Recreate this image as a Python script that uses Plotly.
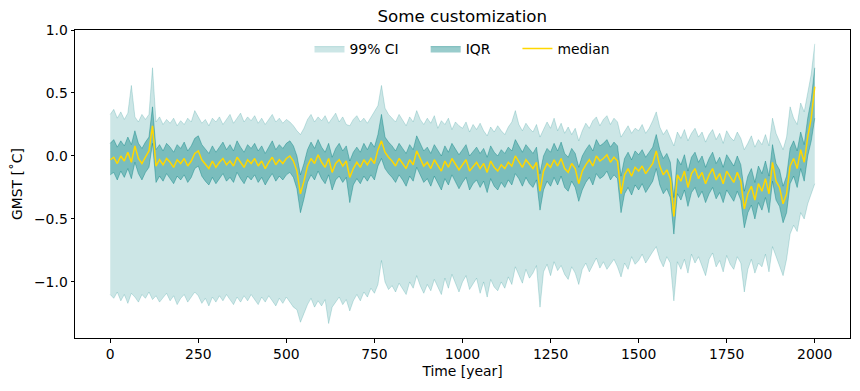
import plotly.graph_objects as go

# Time axis (years), one sample every 10 years
years = list(range(0, 2001, 10))

# Median GMST anomaly
median = [
    -0.03, -0.01, -0.06, 0.0, -0.04, 0.03, -0.05, 0.08, -0.02, -0.06,
    -0.01, 0.04, 0.24, -0.08, -0.03, -0.07, -0.02, -0.05, -0.09, -0.03,
    -0.06, -0.02, -0.08, -0.04, 0.02, 0.04, -0.03, -0.07, -0.1, -0.04,
    -0.09, -0.05, -0.02, -0.07, -0.04, -0.08, -0.01, -0.05, -0.09, -0.03,
    -0.06, -0.02, -0.08, -0.04, -0.1, -0.05, -0.01, -0.07, -0.03, -0.06,
    -0.02, 0.0, -0.04, -0.12, -0.3, -0.2, -0.08, -0.02, -0.06, 0.01,
    -0.05, -0.09, -0.02, -0.13, -0.06, -0.03, -0.08, -0.04, -0.17, -0.1,
    -0.05, -0.09, -0.03, -0.07, -0.02, -0.06, 0.05, 0.12, 0.03, -0.01,
    -0.04, -0.08, -0.02, -0.06, -0.1, -0.03, -0.07, 0.04, -0.02, -0.08,
    -0.05, -0.1, -0.03, -0.07, -0.12, -0.04, -0.09, -0.02, -0.06, -0.11,
    -0.07, -0.03, -0.12, -0.08, -0.05, -0.1, -0.06, -0.13, -0.04, -0.09,
    -0.12, -0.07, -0.1, -0.05, -0.08, 0.0, -0.04, -0.09, -0.03, -0.07,
    -0.1, -0.05, -0.28, -0.12, -0.06, -0.09, -0.03, -0.08, -0.02, -0.1,
    -0.13, -0.06, -0.1, -0.22, -0.12, -0.07, -0.03, -0.08, 0.0, -0.04,
    -0.02, 0.01, -0.05, -0.01, -0.04, -0.3, -0.15, -0.1, -0.16, -0.09,
    -0.12, -0.08, -0.14, -0.1, -0.06, 0.04, -0.08, -0.15, -0.11, -0.18,
    -0.48, -0.15, -0.2, -0.12, -0.25, -0.14, -0.1, -0.18, -0.13, -0.22,
    -0.15, -0.1, -0.19, -0.14, -0.22, -0.12, -0.17, -0.21, -0.13, -0.2,
    -0.42, -0.3, -0.24, -0.35, -0.22, -0.28, -0.18, -0.3, -0.05, -0.2,
    -0.25, -0.38, -0.3, -0.08, -0.02, -0.1, 0.05, -0.05, 0.15, 0.3,
    0.55,
]

# Interquartile range: upper (75%) and lower (25%) bounds
iqr_high = [
    0.1, 0.13, 0.07, 0.12, 0.08, 0.15, 0.09, 0.2, 0.1, 0.06,
    0.11, 0.15, 0.39, 0.05, 0.09, 0.04, 0.1, 0.07, 0.03, 0.09,
    0.06, 0.11, 0.04, 0.08, 0.14, 0.16, 0.09, 0.05, 0.02, 0.08,
    0.03, 0.07, 0.11, 0.05, 0.09, 0.04, 0.12, 0.07, 0.03, 0.09,
    0.06, 0.1, 0.04, 0.08, 0.02, 0.07, 0.12, 0.05, 0.09, 0.06,
    0.1, 0.12, 0.08, 0.0, -0.15, -0.06, 0.05, 0.11, 0.06, 0.13,
    0.07, 0.03, 0.1, -0.01, 0.06, 0.1, 0.04, 0.08, -0.04, 0.03,
    0.07, 0.03, 0.1, 0.05, 0.11, 0.07, 0.17, 0.33, 0.15, 0.11,
    0.08, 0.04, 0.1, 0.06, 0.02, 0.09, 0.05, 0.16, 0.1, 0.04,
    0.07, 0.02, 0.09, 0.05, 0.0, 0.08, 0.03, 0.1, 0.06, 0.01,
    0.05, 0.09, 0.0, 0.04, 0.07, 0.02, 0.06, -0.01, 0.08, 0.03,
    0.0, 0.05, 0.02, 0.07, 0.04, 0.13, 0.08, 0.03, 0.09, 0.05,
    0.02, 0.07, -0.14, 0.0, 0.06, 0.03, 0.1, 0.04, 0.11, 0.02,
    -0.01, 0.06, 0.02, -0.09, 0.0, 0.05, 0.09, 0.04, 0.13, 0.08,
    0.1, 0.13, 0.07, 0.11, 0.08, -0.16, -0.02, 0.03, -0.03, 0.04,
    0.01, 0.05, -0.01, 0.03, 0.07, 0.17, 0.05, -0.02, 0.02, -0.05,
    -0.33, -0.02, -0.07, 0.01, -0.12, -0.01, 0.03, -0.05, 0.0, -0.09,
    -0.02, 0.03, -0.06, -0.01, -0.09, 0.01, -0.04, -0.08, 0.0, -0.07,
    -0.28, -0.16, -0.1, -0.21, -0.08, -0.14, -0.04, -0.16, 0.09, -0.06,
    -0.11, -0.24, -0.16, 0.06, 0.12, 0.04, 0.19, 0.09, 0.3, 0.45,
    0.7,
]
iqr_low = [
    -0.15, -0.13, -0.19, -0.12, -0.17, -0.1, -0.18, -0.05, -0.14, -0.19,
    -0.13, -0.09, 0.1, -0.21, -0.16, -0.2, -0.14, -0.18, -0.22, -0.16,
    -0.19, -0.15, -0.21, -0.17, -0.1, -0.08, -0.16, -0.2, -0.23, -0.17,
    -0.22, -0.18, -0.14, -0.2, -0.17, -0.21, -0.13, -0.18, -0.22, -0.16,
    -0.19, -0.15, -0.21, -0.17, -0.23, -0.18, -0.14, -0.2, -0.16, -0.19,
    -0.15, -0.13, -0.17, -0.26, -0.45, -0.34, -0.21, -0.15, -0.19, -0.12,
    -0.18, -0.22, -0.15, -0.27, -0.19, -0.16, -0.21, -0.17, -0.37, -0.23,
    -0.18, -0.22, -0.16, -0.2, -0.15, -0.19, -0.08, -0.02, -0.1, -0.14,
    -0.17, -0.21, -0.15, -0.19, -0.24, -0.16, -0.2, -0.09, -0.15, -0.21,
    -0.18, -0.24, -0.16, -0.21, -0.27, -0.18, -0.23, -0.15, -0.2, -0.26,
    -0.21, -0.17, -0.27, -0.22, -0.19, -0.25, -0.2, -0.29, -0.18, -0.24,
    -0.27, -0.21, -0.25, -0.19, -0.23, -0.14, -0.18, -0.24, -0.17, -0.22,
    -0.25, -0.19, -0.43, -0.27, -0.2, -0.24, -0.17, -0.23, -0.16, -0.25,
    -0.28, -0.2, -0.25, -0.36, -0.27, -0.21, -0.17, -0.23, -0.14, -0.18,
    -0.16, -0.12, -0.19, -0.15, -0.18, -0.45, -0.3, -0.25, -0.31, -0.23,
    -0.27, -0.22, -0.29, -0.24, -0.2, -0.1, -0.23, -0.3, -0.26, -0.33,
    -0.62, -0.3, -0.35, -0.27, -0.4, -0.29, -0.25, -0.33, -0.28, -0.37,
    -0.3, -0.25, -0.34, -0.29, -0.37, -0.27, -0.32, -0.36, -0.28, -0.35,
    -0.57, -0.45, -0.39, -0.5, -0.37, -0.43, -0.33, -0.45, -0.2, -0.35,
    -0.4, -0.53, -0.45, -0.22, -0.16, -0.25, -0.1, -0.2, 0.0, 0.12,
    0.3,
]

# 99% confidence interval: upper and lower bounds
ci_high = [
    0.33, 0.37, 0.3, 0.35, 0.29, 0.34, 0.56, 0.31, 0.27, 0.33,
    0.29, 0.33, 0.7, 0.27, 0.31, 0.25, 0.29, 0.26, 0.3, 0.24,
    0.28, 0.25, 0.3, 0.27, 0.36, 0.31, 0.26, 0.29, 0.24, 0.3,
    0.27, 0.31, 0.25, 0.29, 0.33, 0.26, 0.3, 0.34, 0.27, 0.31,
    0.28, 0.32, 0.26, 0.3, 0.25, 0.29, 0.33, 0.27, 0.3, 0.26,
    0.29, 0.27, 0.24, 0.2, 0.17, 0.22, 0.29, 0.33, 0.27, 0.31,
    0.28, 0.32, 0.26, 0.3, 0.34, 0.27, 0.31, 0.25, 0.24, 0.29,
    0.32, 0.27, 0.3, 0.26, 0.31, 0.35, 0.4, 0.56, 0.38, 0.33,
    0.3, 0.27, 0.33, 0.28, 0.24, 0.31, 0.27, 0.36, 0.29, 0.25,
    0.3, 0.26, 0.32, 0.22, 0.28, 0.25, 0.3, 0.21, 0.27, 0.24,
    0.22, 0.27, 0.19, 0.25, 0.21, 0.26, 0.2, 0.16, 0.23, 0.19,
    0.24, 0.2, 0.17, 0.23, 0.27, 0.36, 0.25, 0.2, 0.26, 0.22,
    0.19, 0.25, 0.15, 0.21, 0.27, 0.22, 0.3, 0.2, 0.26, 0.18,
    0.23, 0.17, 0.22, 0.12, 0.2, 0.26, 0.22, 0.28, 0.31, 0.24,
    0.29, 0.32, 0.25, 0.3, 0.27, 0.15, 0.2, 0.24, 0.18, 0.22,
    0.2, 0.25, 0.18, 0.22, 0.28, 0.35, 0.23, 0.17, 0.21, 0.15,
    0.08, 0.19, 0.14, 0.21, 0.12, 0.18, 0.22, 0.15, 0.19, 0.11,
    0.17, 0.21, 0.13, 0.18, 0.1, 0.2, 0.15, 0.12, 0.19, 0.14,
    0.05, 0.1, 0.16, 0.07, 0.13, 0.09, 0.17, 0.08, 0.3, 0.18,
    0.12, 0.05, 0.15, 0.39, 0.3, 0.25, 0.42, 0.35, 0.5, 0.65,
    0.89,
]
ci_low = [
    -1.1, -1.13, -1.08, -1.15, -1.1, -1.17, -1.09, -1.12, -1.16, -1.1,
    -1.13, -1.08, -1.14, -1.11, -1.16, -1.12, -1.09, -1.15, -1.11, -1.18,
    -1.13, -1.1, -1.16, -1.12, -1.08, -1.11, -1.17, -1.13, -1.19, -1.12,
    -1.16, -1.11, -1.15, -1.1, -1.14, -1.18, -1.12, -1.16, -1.11, -1.15,
    -1.1, -1.14, -1.18, -1.12, -1.16, -1.11, -1.15, -1.19, -1.13, -1.17,
    -1.12, -1.16, -1.2, -1.22, -1.32, -1.25, -1.18, -1.13, -1.2, -1.15,
    -1.19, -1.14, -1.33, -1.2, -1.16, -1.12, -1.18, -1.14, -1.23, -1.15,
    -1.1, -1.15, -1.08, -1.12, -1.05, -1.09, -1.02, -0.83, -1.0, -1.06,
    -1.03, -1.08, -1.01, -1.06, -1.1, -1.0, -1.05, -0.95, -1.03, -1.09,
    -1.02, -1.07, -0.98, -1.04, -1.1, -0.97, -1.05, -0.94, -1.01, -1.08,
    -1.0, -0.95, -1.06, -1.02, -0.97, -1.09, -1.0, -1.12, -0.98, -1.04,
    -1.07, -1.0, -1.05, -0.96, -1.02, -0.88, -0.95, -1.01, -0.9, -0.97,
    -0.93, -0.87, -1.2, -0.92, -0.86, -0.95, -0.84, -0.91, -0.87, -0.94,
    -0.98, -0.88, -0.93, -1.02, -0.9, -0.85, -0.92, -0.86, -0.81, -0.89,
    -0.84, -0.9, -0.86, -0.82, -0.88, -0.96, -0.85, -0.9, -0.8, -0.86,
    -0.83, -0.78, -0.85, -0.8, -0.76, -0.72, -0.82, -0.88, -0.8, -0.85,
    -1.15, -0.84, -0.9, -0.82, -0.93, -0.78, -0.85, -0.8, -0.87, -0.95,
    -0.82, -0.77, -0.88, -0.83, -0.92, -0.79, -0.86, -0.9, -0.8, -0.85,
    -1.08, -0.9, -0.82, -0.93, -0.85, -0.88, -0.78, -0.92, -0.72, -0.8,
    -0.88, -0.95, -0.82, -0.62, -0.55, -0.6, -0.45, -0.5, -0.38, -0.3,
    -0.22,
]

x_ticks = [0, 250, 500, 750, 1000, 1250, 1500, 1750, 2000]
y_ticks = [-1.0, -0.5, 0.0, 0.5, 1.0]
y_tick_labels = ["\u22121.0", "\u22120.5", "0.0", "0.5", "1.0"]

CI_COLOR = "rgba(0,128,128,0.2)"
IQR_COLOR = "rgba(0,128,128,0.4)"
FONT = "DejaVu Sans"
PAD = "\u00a0" * 5

fig = go.Figure()
fig.add_trace(go.Scatter(x=years, y=ci_low, mode="lines",
                         line=dict(color=CI_COLOR, width=1),
                         showlegend=False, hoverinfo="skip"))
fig.add_trace(go.Scatter(x=years, y=ci_high, mode="lines", fill="tonexty",
                         fillcolor=CI_COLOR, line=dict(color=CI_COLOR, width=1),
                         name="99% CI" + PAD))
fig.add_trace(go.Scatter(x=years, y=iqr_low, mode="lines",
                         line=dict(color=IQR_COLOR, width=1),
                         showlegend=False, hoverinfo="skip"))
fig.add_trace(go.Scatter(x=years, y=iqr_high, mode="lines", fill="tonexty",
                         fillcolor=IQR_COLOR, line=dict(color=IQR_COLOR, width=1),
                         name="IQR" + PAD))
fig.add_trace(go.Scatter(x=years, y=median, mode="lines",
                         line=dict(color="#FFD700", width=1.5),
                         name="median"))

axis_common = dict(
    showline=True, linecolor="black", linewidth=1, mirror=True,
    ticks="outside", ticklen=3.5, tickwidth=1, tickcolor="black",
    showgrid=False, zeroline=False, automargin=False,
    tickfont=dict(family=FONT, size=13.9, color="black"),
)

fig.update_layout(
    width=860, height=391,
    autosize=False,
    margin=dict(l=75, r=10, t=30, b=53, autoexpand=False),
    paper_bgcolor="white", plot_bgcolor="white",
    font=dict(family=FONT, size=13.9, color="black"),
    title=dict(text="Some customization", x=0.5375, xanchor="center",
               y=1 - 16 / 391, yanchor="middle",
               font=dict(family=FONT, size=16.7, color="black")),
    xaxis=dict(range=[-100, 2100], tickvals=x_ticks,
               title=dict(text="Time [year]", standoff=5,
                          font=dict(family=FONT, size=13.9)),
               **axis_common),
    yaxis=dict(range=[-1.445, 1.0], tickvals=y_ticks, ticktext=y_tick_labels,
               title=dict(text="GMST [\u02daC]", standoff=8,
                          font=dict(family=FONT, size=13.9)),
               **axis_common),
    legend=dict(orientation="h", x=0.5, xanchor="center", y=0.99, yanchor="top",
                traceorder="normal",
                bgcolor="rgba(0,0,0,0)", font=dict(family=FONT, size=13.9),
                itemwidth=30, tracegroupgap=0),
    showlegend=True,
)

fig.write_html(
    "out.html",
    config={"responsive": False, "displayModeBar": False},
    post_script=(
        "document.documentElement.style.margin='0';"
        "document.body.style.margin='0';"
        "document.body.style.overflow='hidden';"
    ),
)
